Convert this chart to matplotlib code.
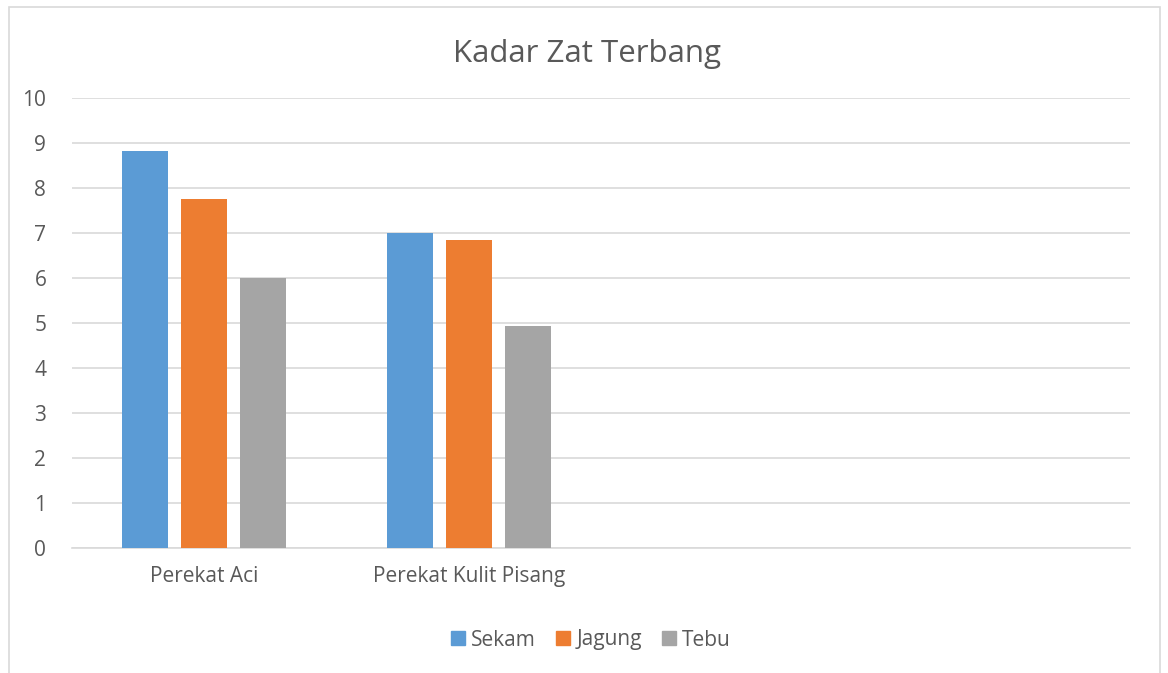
import matplotlib.pyplot as plt
import matplotlib.patches as mpatches
import numpy as np

# Data
categories = ["Perekat Aci", "Perekat Kulit Pisang", "", ""]
series_names = ["Sekam", "Jagung", "Tebu"]
sekam = [8.82, 7.0, None, None]
jagung = [7.76, 6.85, None, None]
tebu = [6.0, 4.94, None, None]
colors = ["#5B9BD5", "#ED7D31", "#A5A5A5"]

plt.rcParams['font.family'] = ['Open Sans', 'DejaVu Sans']
text_color = "#595959"

fig = plt.figure(figsize=(11.68, 6.73), dpi=100)
ax = fig.add_axes([72 / 1168, 1 - 548 / 673, (1130 - 72) / 1168, 450 / 673])

# chart border
fig.patches.append(mpatches.Rectangle((9 / 1168, -0.01), 1151 / 1168, 1 - 7 / 673 + 0.01,
                                      transform=fig.transFigure, fill=False,
                                      edgecolor="#D9D9D9", linewidth=1.2))

x = np.arange(len(categories))
width = 46 / 264
step = 59 / 264
for i, (name, vals) in enumerate(zip(series_names, [sekam, jagung, tebu])):
    xs = [xi + (i - 1) * step for xi, v in zip(x, vals) if v is not None]
    ys = [v for v in vals if v is not None]
    ax.bar(xs, ys, width=width, color=colors[i], label=name, zorder=3)

ax.set_xlim(-0.5, len(categories) - 0.5)
ax.set_ylim(0, 10)
ax.set_yticks(range(0, 11))
ax.set_xticks(x)
ax.set_xticklabels(categories)
ax.yaxis.grid(True, color="#D9D9D9", linewidth=1.2, zorder=0)
ax.tick_params(axis='both', length=0, labelsize=15, colors=text_color)
ax.tick_params(axis='y', pad=18.5)
ax.tick_params(axis='x', pad=13)
for s in ["top", "right", "left"]:
    ax.spines[s].set_visible(False)
ax.spines["bottom"].set_color("#D9D9D9")
ax.spines["bottom"].set_linewidth(1.2)

fig.text(587 / 1168, 1 - 54 / 673, "Kadar Zat Terbang", ha="center", va="center",
         fontsize=22.5, color=text_color)

handles = [mpatches.Patch(color=c, label=n) for c, n in zip(colors, series_names)]
fig.legend(handles=handles, loc="center", bbox_to_anchor=(591 / 1168, 1 - 640 / 673),
           ncol=3, frameon=False, fontsize=15, handlelength=0.65, handleheight=0.65,
           handletextpad=0.3, columnspacing=1.0, labelcolor=text_color)

fig.savefig("out.png", dpi=100)
